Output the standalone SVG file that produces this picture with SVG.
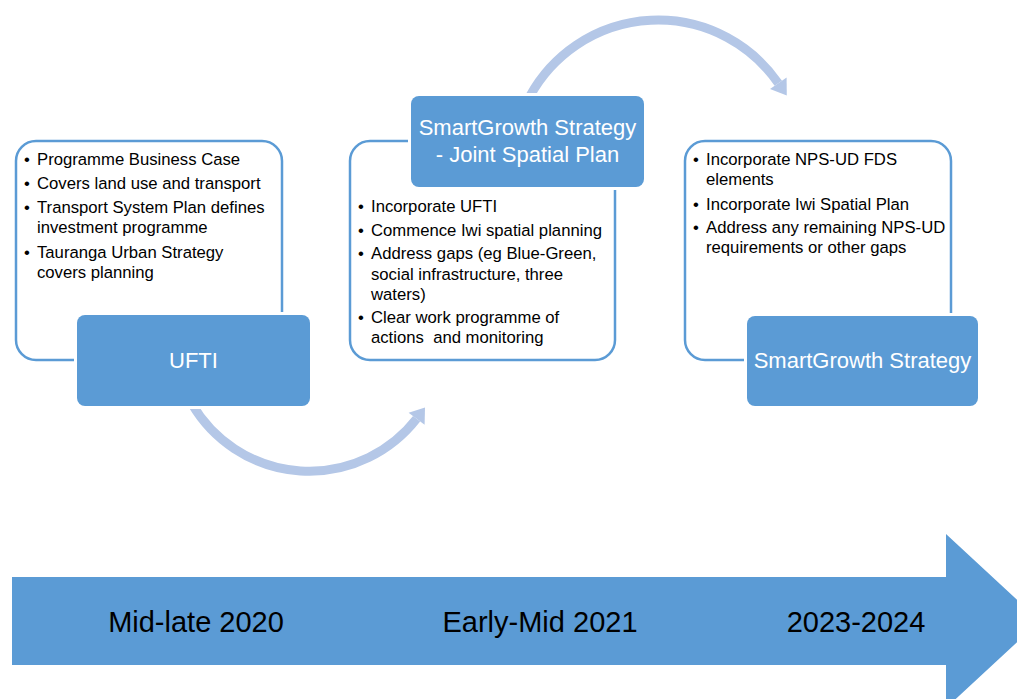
<svg xmlns="http://www.w3.org/2000/svg" width="1017" height="699" viewBox="0 0 1017 699">
  <style>
    .frame { fill: #ffffff; stroke: #5b9bd5; stroke-width: 2.5; }
    .head { fill: #5b9bd5; stroke: #ffffff; stroke-width: 6; paint-order: stroke; }
    .head-text { font-family: "Liberation Sans", Arial, sans-serif; font-size: 22px; fill: #ffffff; text-anchor: middle; }
    .body { font-family: "Liberation Sans", Arial, sans-serif; font-size: 16.7px; fill: #000000; }
    .flow { fill: none; stroke: #b4c7e7; stroke-width: 9; }
    .flow-head { fill: #b4c7e7; }
    .timeline { fill: #5b9bd5; }
    .time-text { font-family: "Liberation Sans", Arial, sans-serif; font-size: 29px; fill: #000000; text-anchor: middle; }
  </style>

  <!-- curved flow arrows between stages -->
  <g id="connectors">
    <path class="flow" d="M 192 404 A 136 136 0 0 0 416.6 418.8"/>
    <polygon class="flow-head" points="425,407.6 424.6,424.8 408.6,412.8"/>
    <path class="flow" d="M 530 96 A 146 146 0 0 1 778.3 83.3"/>
    <polygon class="flow-head" points="786.8,95.6 786.6,77.6 770.0,89.0"/>
  </g>

  <!-- stage 1 -->
  <g id="uftis">
    <rect class="frame" x="16" y="141" width="266" height="219" rx="20"/>
    <rect class="head" x="77" y="315" width="233" height="91" rx="8"/>
    <text class="head-text" x="193.5" y="368">UFTI</text>
    <g class="body">
      <text x="24" y="165">•</text><text x="37" y="165">Programme Business Case</text>
      <text x="24" y="189">•</text><text x="37" y="189">Covers land use and transport</text>
      <text x="24" y="213">•</text><text x="37" y="213">Transport System Plan defines</text>
      <text x="37" y="233">investment programme</text>
      <text x="24" y="258">•</text><text x="37" y="258">Tauranga Urban Strategy</text>
      <text x="37" y="278">covers planning</text>
    </g>
  </g>

  <!-- stage 2 -->
  <g id="joint-spatial-plan">
    <rect class="frame" x="350" y="141" width="265" height="219" rx="20"/>
    <rect class="head" x="411" y="96" width="233" height="91" rx="8"/>
    <text class="head-text" x="527.5" y="135">SmartGrowth Strategy</text>
    <text class="head-text" x="527.5" y="162">- Joint Spatial Plan</text>
    <g class="body">
      <text x="358" y="212">•</text><text x="371" y="212">Incorporate UFTI</text>
      <text x="358" y="236">•</text><text x="371" y="236">Commence Iwi spatial planning</text>
      <text x="358" y="259">•</text><text x="371" y="259">Address gaps (eg Blue-Green,</text>
      <text x="371" y="280">social infrastructure, three</text>
      <text x="371" y="300">waters)</text>
      <text x="358" y="323">•</text><text x="371" y="323">Clear work programme of</text>
      <text x="371" y="343" xml:space="preserve">actions  and monitoring</text>
    </g>
  </g>

  <!-- stage 3 -->
  <g id="smartgrowth-strategy">
    <rect class="frame" x="685" y="141" width="266" height="219" rx="20"/>
    <rect class="head" x="747" y="316" width="231" height="90" rx="8"/>
    <text class="head-text" x="862.5" y="368">SmartGrowth Strategy</text>
    <g class="body">
      <text x="693" y="165">•</text><text x="706" y="165">Incorporate NPS-UD FDS</text>
      <text x="706" y="185">elements</text>
      <text x="693" y="210">•</text><text x="706" y="210">Incorporate Iwi Spatial Plan</text>
      <text x="693" y="233">•</text><text x="706" y="233">Address any remaining NPS-UD</text>
      <text x="706" y="253">requirements or other gaps</text>
    </g>
  </g>

  <!-- timeline -->
  <g id="timeline">
    <polygon class="timeline" points="12,577 946,577 946,534 1040,621 946,708 946,665 12,665"/>
    <text class="time-text" x="196" y="632">Mid-late 2020</text>
    <text class="time-text" x="540" y="632">Early-Mid 2021</text>
    <text class="time-text" x="856" y="632">2023-2024</text>
  </g>
</svg>
